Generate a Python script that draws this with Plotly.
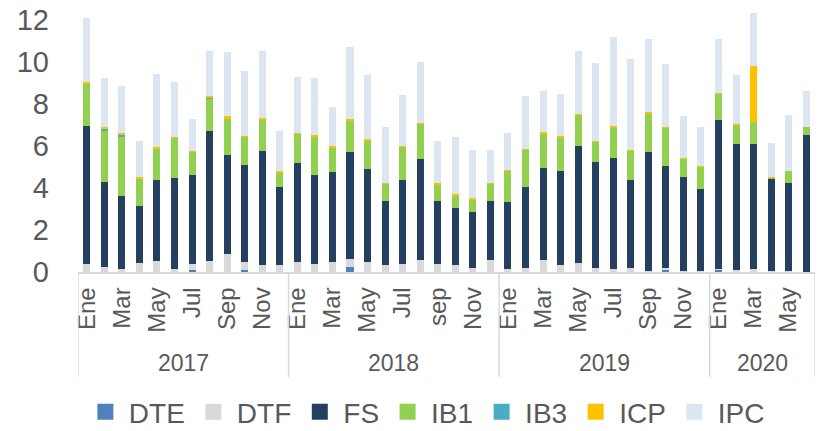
import plotly.graph_objects as go

# ---------------- data ----------------
years = [2017] * 12 + [2018] * 12 + [2019] * 12 + [2020] * 6
months = (["Ene", "Feb", "Mar", "Abr", "May", "Jun", "Jul", "Ago", "Sep", "Oct", "Nov", "Dic"]
          + ["Ene", "Feb", "Mar", "Abr", "May", "Jun", "Jul", "Ago", "sep", "Oct", "Nov", "Dic"]
          + ["Ene", "Feb", "Mar", "Abr", "May", "Jun", "Jul", "Ago", "Sep", "Oct", "Nov", "Dic"]
          + ["Ene", "Feb", "Mar", "Abr", "May", "Jun"])

DTE = [0, 0, 0, 0, 0, 0, 0.10, 0, 0, 0.10, 0, 0,
       0, 0, 0, 0.25, 0, 0, 0, 0, 0, 0, 0, 0,
       0, 0, 0, 0, 0, 0, 0, 0, 0, 0.08, 0, 0,
       0.11, 0, 0, 0, 0, 0]
DTF = [0.37, 0.25, 0.15, 0.41, 0.53, 0.15, 0.27, 0.53, 0.85, 0.39, 0.31, 0.33,
       0.50, 0.38, 0.46, 0.37, 0.48, 0.35, 0.38, 0.57, 0.38, 0.31, 0.21, 0.56,
       0.15, 0.21, 0.56, 0.31, 0.41, 0.21, 0.13, 0.18, 0.05, 0.12, 0.03, 0.03,
       0.03, 0.10, 0.13, 0.05, 0.03, 0.02]
FS = [6.58, 4.04, 3.47, 2.71, 3.86, 4.33, 4.26, 6.19, 4.70, 4.62, 5.46, 3.73,
      4.70, 4.25, 4.32, 5.08, 4.44, 3.04, 3.98, 4.80, 3.01, 2.75, 2.66, 2.81,
      3.19, 3.82, 4.37, 4.51, 5.61, 5.02, 5.31, 4.18, 5.65, 4.86, 4.51, 3.92,
      7.11, 6.00, 5.97, 4.36, 4.22, 6.52]
IB1 = [2.03, 2.47, 2.85, 1.33, 1.49, 1.91, 1.10, 1.53, 1.75, 1.32, 1.48, 0.69,
       1.40, 1.82, 1.14, 1.49, 1.34, 0.80, 1.60, 1.68, 0.79, 0.57, 0.55, 0.82,
       1.48, 1.81, 1.68, 1.60, 1.46, 0.99, 1.46, 1.41, 1.86, 1.83, 0.84, 1.06,
       1.26, 0.92, 1.03, 0.11, 0.56, 0.35]
IB3 = [0, 0.08, 0.04, 0, 0, 0, 0, 0.05, 0, 0, 0, 0,
       0, 0, 0, 0, 0, 0, 0, 0, 0, 0, 0, 0,
       0, 0, 0, 0, 0, 0, 0, 0, 0, 0, 0, 0,
       0, 0, 0, 0, 0, 0]
ICP = [0.08, 0.08, 0.11, 0.08, 0.07, 0.04, 0.05, 0.06, 0.11, 0.06, 0.06, 0.04,
       0.03, 0.08, 0.10, 0.10, 0.08, 0.07, 0.05, 0.05, 0.07, 0.09, 0.11, 0.03,
       0.04, 0.03, 0.06, 0.07, 0.04, 0.02, 0.05, 0.05, 0.06, 0.03, 0.05, 0.05,
       0.03, 0.04, 2.68, 0.01, 0.01, 0.00]
IPC = [3.02, 2.30, 2.23, 1.72, 3.49, 2.62, 1.49, 2.14, 3.06, 3.10, 3.22, 1.94,
       2.67, 2.73, 1.82, 3.44, 3.06, 2.63, 2.40, 2.91, 1.97, 2.69, 2.29, 1.59,
       1.78, 2.52, 1.95, 1.98, 3.00, 3.71, 4.22, 4.32, 3.48, 2.97, 2.00, 1.86,
       2.54, 2.32, 2.51, 1.60, 2.66, 1.74]

series = [("DTE", DTE, "#4F81BD"), ("DTF", DTF, "#D9D9D9"), ("FS", FS, "#243F60"),
          ("IB1", IB1, "#92D050"), ("IB3", IB3, "#4BACC6"), ("ICP", ICP, "#FFC000"),
          ("IPC", IPC, "#DCE6F2")]

# ---------------- figure ----------------
x = list(range(len(months)))
FONT = "Liberation Sans, Arial, sans-serif"
GRAY = "#595959"
LINE = "#D9D9D9"

fig = go.Figure()
for name, vals, col in series:
    fig.add_trace(go.Bar(x=x, y=vals, name=name, showlegend=False, legendgroup=name,
                         marker=dict(color=col, line=dict(width=0))))
# legend entries with larger square keys
for name, vals, col in series:
    fig.add_trace(go.Scatter(x=[None], y=[None], mode="markers", name=name, legendgroup=name,
                             marker=dict(symbol="square", size=16, color=col)))

# every other month shown as tick label (first month of each year onwards)
tickvals, ticktext = [], []
for i, (yr, m) in enumerate(zip(years, months)):
    pos_in_year = i - years.index(yr)
    if pos_in_year % 2 == 0:
        tickvals.append(i)
        ticktext.append(m)

# year group labels and dividers
unique_years = []
for yr in years:
    if yr not in unique_years:
        unique_years.append(yr)
shapes = []
annotations = []
for yr in unique_years:
    first = years.index(yr)
    last = len(years) - 1 - years[::-1].index(yr)
    annotations.append(dict(x=(first + last) / 2, y=-0.333, xref="x", yref="paper",
                            text=str(yr), showarrow=False,
                            font=dict(family=FONT, size=23, color=GRAY),
                            xanchor="center", yanchor="middle"))
    shapes.append(dict(type="line", xref="x", yref="paper", x0=first - 0.5, x1=first - 0.5,
                       y0=0, y1=-0.386, line=dict(color=LINE, width=1.5)))
shapes.append(dict(type="line", xref="x", yref="paper", x0=len(years) - 0.5, x1=len(years) - 0.5,
                   y0=0, y1=-0.386, line=dict(color=LINE, width=1.5)))

fig.update_layout(
    width=821, height=431,
    margin=dict(l=78, r=6, t=0, b=159),
    paper_bgcolor="white", plot_bgcolor="white",
    barmode="stack", bargap=0.6,
    font=dict(family=FONT, color=GRAY),
    xaxis=dict(range=[-0.5, len(years) - 0.5], tickmode="array", tickvals=tickvals,
               ticktext=ticktext, tickangle=-90, tickfont=dict(size=24, color=GRAY),
               showline=True, linecolor=LINE, linewidth=1.5, showgrid=False,
               ticks="", zeroline=False, automargin=False, ticklabelstandoff=4),
    yaxis=dict(range=[0, 12.95], tickvals=[0, 2, 4, 6, 8, 10, 12], showgrid=False,
               zeroline=False, showline=False, tickfont=dict(size=29, color=GRAY),
               ticklabelstandoff=28, automargin=False),
    legend=dict(orientation="h", x=0.472, xanchor="center",
                yref="container", y=(431 - 412) / 431, yanchor="middle",
                font=dict(size=28, color=GRAY), traceorder="normal", itemwidth=37),
    shapes=shapes, annotations=annotations,
)

fig.write_html("out.html", config={"displayModeBar": False},
               post_script="document.body.style.margin='0px';")
